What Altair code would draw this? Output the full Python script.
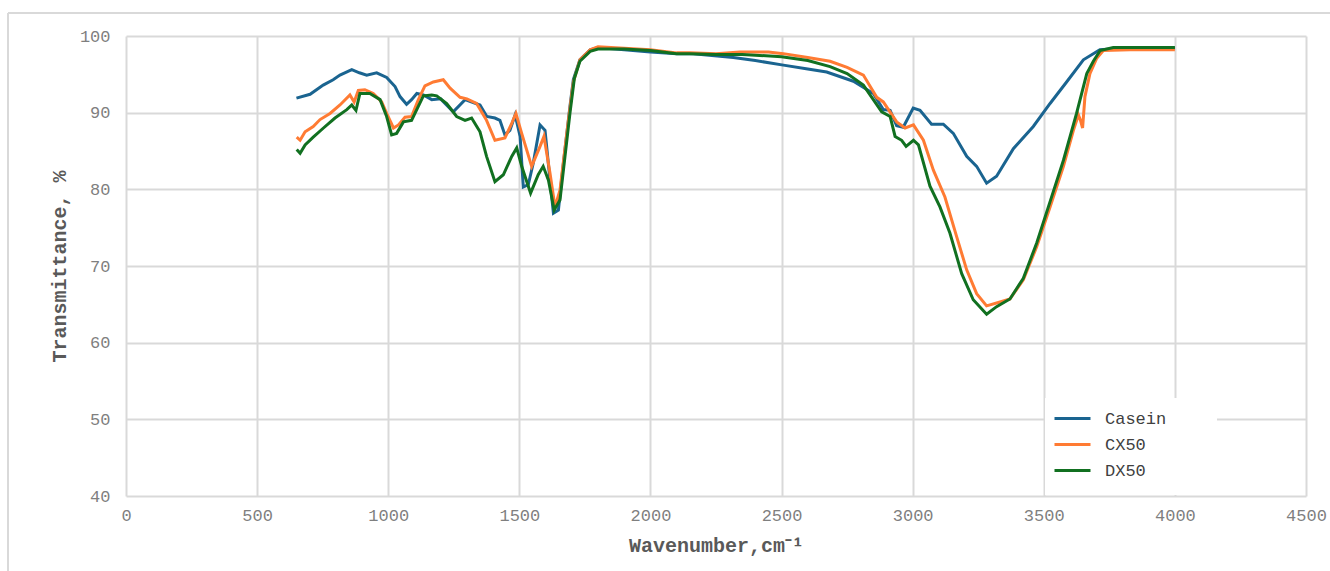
import altair as alt
import pandas as pd

# FTIR spectra: wavenumber (cm-1) and transmittance (%) for each sample
casein_wn = [650, 702, 752, 790, 816, 861, 890, 918, 956, 994, 1026, 1045, 1070, 1089,
             1109, 1134, 1166, 1200, 1248, 1293, 1350, 1376, 1407, 1426, 1445, 1464, 1484,
             1503, 1515, 1534, 1553, 1579, 1598, 1617, 1630, 1649, 1668, 1693, 1706, 1731,
             1770, 1800, 1900, 2000, 2100, 2163, 2316, 2400, 2507, 2600, 2672, 2774, 2850,
             2888, 2914, 2939, 2964, 3002, 3028, 3072, 3117, 3155, 3206, 3244, 3282, 3320,
             3384, 3460, 3524, 3587, 3651, 3714, 3800, 4000]
casein_t = [91.9, 92.4, 93.6, 94.3, 94.9, 95.6, 95.2, 94.9, 95.2, 94.6, 93.4, 92.1, 91.1, 91.7,
            92.5, 92.3, 91.7, 91.8, 90.1, 91.7, 91.0, 89.5, 89.3, 89.0, 87.1, 87.7, 89.7,
            86.9, 80.3, 80.6, 83.4, 88.4, 87.7, 81.2, 76.9, 77.3, 83.4, 90.8, 94.3, 96.9,
            98.2, 98.5, 98.2, 97.9, 97.7, 97.7, 97.2, 96.8, 96.2, 95.7, 95.3, 94.1, 92.5,
            90.4, 90.3, 88.3, 88.1, 90.6, 90.3, 88.5, 88.5, 87.3, 84.3, 83.0, 80.8, 81.7,
            85.3, 88.2, 91.2, 94.0, 96.9, 98.2, 98.4, 98.4]

cx50_wn = [651, 664, 683, 714, 740, 778, 816, 854, 870, 886, 911, 943, 975, 994, 1020, 1039,
           1064, 1089, 1115, 1140, 1172, 1210, 1236, 1274, 1300, 1337, 1375, 1407, 1445,
           1471, 1487, 1509, 1547, 1579, 1594, 1617, 1636, 1655, 1687, 1706, 1731, 1770,
           1800, 1900, 2000, 2100, 2151, 2250, 2341, 2450, 2507, 2600, 2685, 2750, 2812,
           2863, 2888, 2939, 2971, 3003, 3041, 3079, 3123, 3168, 3206, 3244, 3282, 3333,
           3371, 3422, 3473, 3524, 3575, 3613, 3632, 3640, 3648, 3657, 3676, 3702, 3727,
           3829, 4000]
cx50_t = [86.8, 86.4, 87.5, 88.2, 89.1, 89.9, 91.0, 92.3, 91.4, 92.9, 93.0, 92.5, 91.4, 89.9,
          88.0, 88.4, 89.4, 89.5, 91.7, 93.5, 94.0, 94.3, 93.2, 92.0, 91.8, 91.2, 89.0,
          86.4, 86.7, 88.6, 89.9, 87.3, 83.0, 85.6, 86.9, 82.1, 77.7, 79.9, 89.0, 94.0,
          96.9, 98.2, 98.6, 98.4, 98.2, 97.8, 97.8, 97.7, 97.9, 97.9, 97.7, 97.2, 96.7,
          95.9, 94.9, 92.0, 91.4, 88.8, 88.0, 88.4, 86.4, 82.5, 79.0, 73.8, 69.5, 66.4,
          64.8, 65.3, 65.7, 68.2, 72.5, 77.7, 83.0, 87.7, 89.7, 89.0, 88.0, 92.1, 95.1,
          97.1, 98.1, 98.2, 98.2]

dx50_wn = [651, 664, 683, 714, 753, 797, 842, 861, 877, 892, 930, 969, 994, 1013, 1032, 1058,
           1089, 1134, 1166, 1185, 1223, 1261, 1293, 1318, 1350, 1375, 1407, 1439, 1471,
           1490, 1509, 1543, 1572, 1591, 1611, 1633, 1655, 1693, 1710, 1731, 1770, 1800,
           1900, 2000, 2100, 2150, 2250, 2350, 2500, 2600, 2685, 2750, 2812, 2882, 2914,
           2933, 2958, 2975, 3003, 3022, 3066, 3104, 3142, 3187, 3231, 3282, 3320, 3371,
           3422, 3473, 3524, 3575, 3625, 3664, 3689, 3715, 3765, 4000]
dx50_t = [85.2, 84.7, 85.8, 86.8, 88.0, 89.3, 90.4, 91.0, 90.3, 92.5, 92.5, 91.7, 89.5, 87.1,
          87.3, 88.8, 89.0, 92.2, 92.3, 92.2, 91.2, 89.5, 89.0, 89.3, 87.5, 84.3, 81.0,
          81.9, 84.3, 85.4, 83.0, 79.5, 81.9, 83.0, 81.2, 77.3, 78.6, 89.9, 94.5, 96.7,
          98.0, 98.3, 98.3, 98.1, 97.7, 97.7, 97.6, 97.6, 97.3, 96.8, 96.0, 95.1, 93.6,
          90.1, 89.5, 86.9, 86.4, 85.6, 86.4, 85.8, 80.4, 77.7, 74.3, 69.0, 65.6, 63.7,
          64.7, 65.7, 68.4, 73.0, 78.4, 83.8, 89.9, 95.1, 96.7, 98.1, 98.5, 98.5]

series_names = ["Casein", "CX50", "DX50"]
series_colors = ["#1A6490", "#FF7B33", "#117020"]
x_ticks = list(range(0, 4501, 500))
y_ticks = list(range(40, 101, 10))

rows = []
for name, wn, tr in zip(series_names, [casein_wn, cx50_wn, dx50_wn], [casein_t, cx50_t, dx50_t]):
    for w, t in zip(wn, tr):
        rows.append({"series": name, "wavenumber": w, "transmittance": t})
df = pd.DataFrame(rows)

FONT = "Liberation Mono"
GRID = "#d9d9d9"

x_enc = alt.X(
    "wavenumber:Q",
    scale=alt.Scale(domain=[0, 4500], nice=False, zero=False),
    axis=alt.Axis(values=x_ticks, format="d", title="Wavenumber,cm⁻¹", labelPadding=11,
                  labelFlush=False, labelOverlap=False,
                  titleX=590, titleY=49, titleBaseline="middle", titleAlign="center"),
)
y_enc = alt.Y(
    "transmittance:Q",
    scale=alt.Scale(domain=[40, 100], nice=False, zero=False),
    axis=alt.Axis(values=y_ticks, format="d", title="Transmittance, %", labelPadding=16,
                  labelFlush=False, labelOverlap=False,
                  titleX=-67, titleY=230, titleAngle=270, titleBaseline="middle",
                  titleAlign="center"),
)
color_enc = alt.Color(
    "series:N",
    scale=alt.Scale(domain=series_names, range=series_colors),
    legend=alt.Legend(
        title=None, orient="none", legendX=936, legendY=372, padding=0,
        symbolType="M-2,0H2", symbolSize=324, symbolStrokeWidth=3,
        labelOffset=22, rowPadding=7, labelFont=FONT, labelFontSize=17,
        labelColor="#404040", labelBaseline="middle",
    ),
)

one = pd.DataFrame({"k": [0]})

# white panel behind the legend, hiding the gridlines
legend_bg = alt.Chart(one).mark_rect(fill="white").encode(
    x=alt.value(919), x2=alt.value(1091), y=alt.value(362), y2=alt.value(459)
)

# outer frame (left and top edges)
frame_left = alt.Chart(one).mark_rule(color=GRID, strokeWidth=2).encode(
    x=alt.value(-118), y=alt.value(-23), y2=alt.value(540)
)
frame_top = alt.Chart(one).mark_rule(color=GRID, strokeWidth=2).encode(
    x=alt.value(-118), x2=alt.value(1210), y=alt.value(-23)
)

layers = [legend_bg]
for name in series_names:
    layers.append(
        alt.Chart(df)
        .transform_filter(alt.datum.series == name)
        .mark_line(strokeWidth=3)
        .encode(x=x_enc, y=y_enc, color=color_enc)
    )
layers += [frame_left, frame_top]

chart = (
    alt.layer(*layers)
    .properties(
        width=1180, height=460,
        autosize=alt.AutoSizeParams(type="none"),
        padding={"left": 126, "top": 36, "right": 24, "bottom": 75},
        background="white",
    )
    .configure_view(strokeWidth=0)
    .configure_axis(
        domain=False, ticks=False, grid=True, gridColor=GRID, gridWidth=2,
        labelFont=FONT, labelFontSize=17, labelColor="#7f7f7f",
        titleFont=FONT, titleFontSize=20, titleFontWeight="bold", titleColor="#595959",
    )
)

chart.save("out.html", embed_options={"renderer": "svg", "actions": False})
